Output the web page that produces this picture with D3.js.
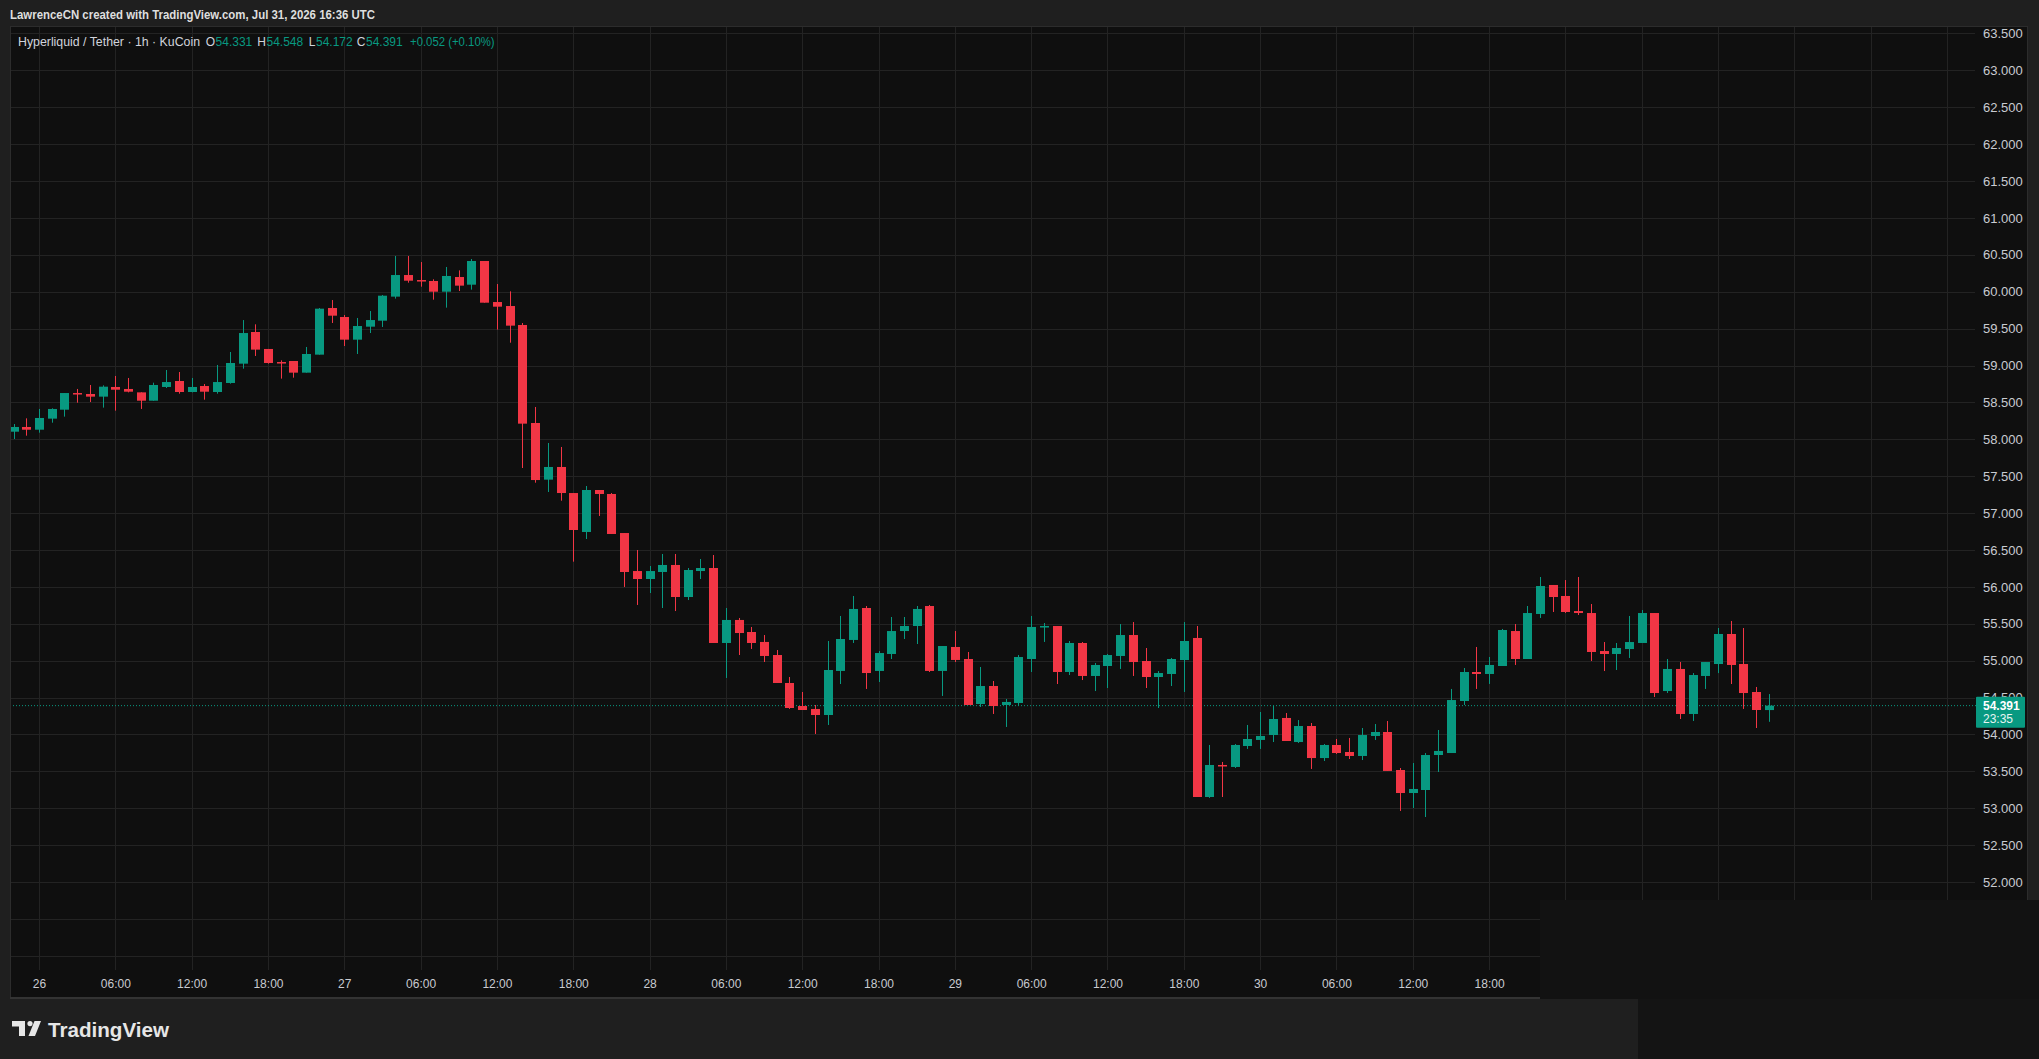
<!DOCTYPE html>
<html><head><meta charset="utf-8">
<script src="https://cdn.jsdelivr.net/npm/d3@7"></script>
<style>html,body{margin:0;padding:0;background:#1f1f1f;overflow:hidden}
text{font-family:"Liberation Sans",Arial,sans-serif}</style></head>
<body><svg id="c" width="2039" height="1059"></svg>
<script>
// ---- data (Hyperliquid / Tether, 1h, KuCoin) ----
const firstCandle = "2026-07-25T22:00:00Z";
const openV = [58.103,58.167,58.130,58.280,58.401,58.627,58.614,58.578,58.709,58.682,58.636,58.523,58.709,58.790,58.641,58.722,58.641,58.763,59.025,59.454,
59.224,59.047,59.061,58.903,59.147,59.779,59.657,59.350,59.526,59.607,59.933,60.226,60.158,60.145,60.000,60.199,60.095,60.416,59.860,59.806,
59.549,58.221,57.453,57.625,57.272,56.744,57.313,57.259,56.730,56.215,56.107,56.202,56.297,55.863,56.215,56.256,55.240,55.552,55.389,55.254,
55.077,54.698,54.386,54.346,54.264,54.861,55.281,55.714,54.861,55.091,55.402,55.470,55.741,54.861,55.186,55.023,54.413,54.657,54.400,54.427,
55.023,55.457,55.470,54.847,55.240,54.793,54.928,55.064,55.348,54.996,54.779,54.820,55.009,55.308,53.153,53.587,53.560,53.844,53.926,53.993,
54.224,53.898,54.115,53.681,53.858,53.763,53.709,53.980,54.034,53.519,53.207,53.248,53.722,53.749,54.454,54.847,54.820,54.928,55.402,55.023,
55.633,56.026,55.877,55.673,55.646,55.131,55.091,55.158,55.240,55.646,54.589,54.888,54.278,54.793,54.955,55.362,54.955,54.576,54.331];
const highV = [58.207,58.284,58.411,58.420,58.627,58.682,58.736,58.731,58.858,58.831,58.636,58.767,58.939,58.912,58.831,58.749,59.007,59.183,59.616,59.558,
59.224,59.070,59.061,59.251,59.779,59.887,59.684,59.644,59.738,59.955,60.484,60.484,60.402,60.168,60.335,60.289,60.443,60.416,60.104,60.005,
59.576,58.438,57.950,57.896,57.272,57.367,57.313,57.272,56.730,56.500,56.283,56.446,56.446,56.256,56.378,56.432,55.714,55.579,55.457,55.348,
55.145,54.779,54.576,54.400,55.267,55.606,55.877,55.741,55.131,55.592,55.592,55.741,55.755,55.199,55.402,55.118,54.915,54.725,54.481,55.077,
55.606,55.511,55.470,55.267,55.253,54.969,55.091,55.497,55.524,55.172,54.860,55.037,55.524,55.470,53.858,53.628,53.871,54.129,54.305,54.386,
54.291,54.196,54.156,53.871,53.939,53.953,54.088,54.142,54.183,53.546,53.614,53.749,54.061,54.617,54.901,55.186,55.050,55.430,55.497,55.741,
56.134,56.026,56.093,56.134,55.768,55.253,55.240,55.606,55.687,55.646,55.023,54.982,54.833,54.982,55.443,55.538,55.443,54.644,54.548];
const lowV = [58.004,58.049,58.090,58.225,58.307,58.496,58.505,58.429,58.388,58.636,58.411,58.523,58.695,58.618,58.636,58.537,58.618,58.754,58.957,59.129,
59.025,58.822,58.835,58.903,59.147,59.576,59.264,59.156,59.440,59.522,59.906,60.122,60.068,59.892,59.784,60.009,60.028,59.851,59.486,59.309,
57.611,57.412,57.286,57.168,56.342,56.649,56.961,56.717,55.999,55.755,55.917,55.714,55.673,55.822,56.107,55.240,54.766,55.077,55.159,54.982,
54.698,54.346,54.332,54.007,54.129,54.684,55.240,54.617,54.711,55.023,55.294,55.226,54.847,54.522,54.982,54.400,54.373,54.278,54.102,54.386,
54.847,55.254,54.684,54.806,54.738,54.589,54.630,54.888,54.793,54.630,54.359,54.657,54.576,53.153,53.140,53.153,53.546,53.804,53.804,53.898,
53.912,53.885,53.533,53.641,53.736,53.668,53.654,53.926,53.506,52.964,53.004,52.882,53.492,53.749,54.400,54.617,54.685,54.928,54.942,55.023,
55.579,55.660,55.646,55.619,54.996,54.860,54.874,55.037,55.240,54.508,54.562,54.210,54.183,54.617,54.832,54.684,54.346,54.088,54.172];
const closeV = [58.167,58.130,58.289,58.411,58.627,58.618,58.578,58.713,58.672,58.645,58.523,58.736,58.776,58.641,58.709,58.645,58.776,59.034,59.440,59.215,
59.034,59.038,58.903,59.156,59.770,59.675,59.350,59.535,59.616,59.946,60.226,60.149,60.149,60.000,60.213,60.082,60.416,59.851,59.797,59.540,
58.212,57.448,57.625,57.272,56.771,57.313,57.259,56.717,56.202,56.107,56.215,56.297,55.863,56.229,56.256,55.240,55.552,55.375,55.240,55.064,
54.698,54.359,54.332,54.264,54.874,55.294,55.701,54.833,55.104,55.402,55.470,55.701,54.861,55.199,55.010,54.400,54.657,54.386,54.441,55.050,
55.457,55.470,54.847,55.240,54.793,54.942,55.077,55.348,54.982,54.779,54.833,55.023,55.267,53.153,53.587,53.578,53.858,53.939,53.980,54.210,
53.912,54.115,53.681,53.858,53.749,53.709,53.993,54.034,53.506,53.207,53.262,53.722,53.777,54.467,54.847,54.820,54.942,55.416,55.023,55.646,
56.012,55.863,55.660,55.646,55.118,55.091,55.172,55.253,55.646,54.562,54.888,54.278,54.806,54.982,55.362,54.942,54.562,54.332,54.391];
const priceTicks = [52,52.5,53,53.5,54,54.5,55,55.5,56,56.5,57,57.5,58,58.5,59,59.5,60,60.5,61,61.5,62,62.5,63,63.5];
const gridPrices = [51,51.5,52,52.5,53,53.5,54,54.5,55,55.5,56,56.5,57,57.5,58,58.5,59,59.5,60,60.5,61,61.5,62,62.5,63,63.5];
const timeTicks = ["2026-07-26T00:00:00Z","2026-07-26T06:00:00Z","2026-07-26T12:00:00Z","2026-07-26T18:00:00Z",
"2026-07-27T00:00:00Z","2026-07-27T06:00:00Z","2026-07-27T12:00:00Z","2026-07-27T18:00:00Z",
"2026-07-28T00:00:00Z","2026-07-28T06:00:00Z","2026-07-28T12:00:00Z","2026-07-28T18:00:00Z",
"2026-07-29T00:00:00Z","2026-07-29T06:00:00Z","2026-07-29T12:00:00Z","2026-07-29T18:00:00Z",
"2026-07-30T00:00:00Z","2026-07-30T06:00:00Z","2026-07-30T12:00:00Z","2026-07-30T18:00:00Z"];
const extraGridTimes = ["2026-07-31T00:00:00Z","2026-07-31T06:00:00Z","2026-07-31T12:00:00Z","2026-07-31T18:00:00Z",
"2026-08-01T00:00:00Z","2026-08-01T06:00:00Z"];
const lastPrice = 54.391, countdown = "23:35";
const headerText = "LawrenceCN created with TradingView.com, Jul 31, 2026 16:36 UTC";

// ---- colors ----
const UP = "#089981", DOWN = "#f23645", GRID = "#232323", TXT = "#c9cbd1";

const svg = d3.select("#c");
const t0 = new Date(firstCandle).getTime();
const candles = openV.map((o,i)=>({t:new Date(t0+i*3600e3),o,h:highV[i],l:lowV[i],c:closeV[i]}));

const x = d3.scaleUtc().domain([new Date("2026-07-26T00:00:00Z"), new Date("2026-07-31T00:00:00Z")]).range([39, 39+120*12.72]);
const y = d3.scaleLinear().domain([52,63]).range([882.1, 70.3]);

const PL=10, PR=1975, PT=27, PB=970;

// header
svg.append("text").attr("x",10).attr("y",19).attr("font-size",12.5).attr("font-weight","bold")
  .attr("fill","#dedede").attr("textLength",365).attr("lengthAdjust","spacingAndGlyphs").text(headerText);

// pane
svg.append("rect").attr("x",10).attr("y",26).attr("width",2018).attr("height",972).attr("fill","#0f0f0f");

// grid
const g = svg.append("g");
g.selectAll("line.h").data(gridPrices).join("line").attr("x1",PL).attr("x2",PR)
  .attr("y1",d=>Math.round(y(d))+0.5).attr("y2",d=>Math.round(y(d))+0.5).attr("stroke",GRID);
g.selectAll("line.v").data(timeTicks.concat(extraGridTimes).map(s=>new Date(s))).join("line")
  .attr("x1",d=>Math.round(x(d))+0.5).attr("x2",d=>Math.round(x(d))+0.5).attr("y1",PT).attr("y2",PB).attr("stroke",GRID);

// price line
svg.append("line").attr("x1",PL).attr("x2",1976).attr("y1",y(lastPrice)).attr("y2",y(lastPrice))
  .attr("stroke",UP).attr("stroke-dasharray","1 2").attr("stroke-width",1);

// candles
const bw = 9;
const cg = svg.append("g");
const cs = cg.selectAll("g").data(candles).join("g");
cs.append("line").attr("x1",d=>Math.round(x(d.t))+0.5).attr("x2",d=>Math.round(x(d.t))+0.5)
  .attr("y1",d=>y(d.h)).attr("y2",d=>y(d.l)).attr("stroke",d=>d.c>=d.o?UP:DOWN).attr("stroke-width",1);
cs.append("rect").attr("x",d=>Math.round(x(d.t))-4).attr("width",bw)
  .attr("y",d=>y(Math.max(d.o,d.c))).attr("height",d=>Math.max(1.5,Math.abs(y(d.o)-y(d.c))))
  .attr("fill",d=>d.c>=d.o?UP:DOWN);

// price axis
const ya = svg.append("g").attr("transform","translate(1983,0)")
  .call(d3.axisRight(y).tickValues(priceTicks).tickFormat(d3.format(".3f")).tickSize(0).tickPadding(0));
ya.select(".domain").remove();
ya.selectAll("text").attr("fill",TXT).attr("font-size",13).attr("font-family","Liberation Sans, Arial, sans-serif");

// time axis
const fmt = d => d.getUTCHours()===0 ? String(d.getUTCDate()) : d3.utcFormat("%H:%M")(d);
const xa = svg.append("g").attr("transform","translate(0,979.5)")
  .call(d3.axisBottom(x).tickValues(timeTicks.map(s=>new Date(s))).tickFormat(fmt).tickSize(0).tickPadding(0));
xa.select(".domain").remove();
xa.selectAll("text").attr("fill",TXT).attr("font-size",12).attr("font-family","Liberation Sans, Arial, sans-serif");

// last price box
svg.append("rect").attr("x",1976).attr("y",y(lastPrice)-9).attr("width",49).attr("height",31).attr("fill",UP).attr("rx",1);
svg.append("text").attr("x",1983).attr("y",y(lastPrice)+4.5).attr("font-size",12).attr("font-weight","bold").attr("fill","#ffffff").text(d3.format(".3f")(lastPrice));
svg.append("text").attr("x",1983).attr("y",y(lastPrice)+17.5).attr("font-size",12).attr("fill","#e6f4f1").text(countdown);

// pane border
svg.append("rect").attr("x",10.5).attr("y",26.5).attr("width",2017).attr("height",971).attr("fill","none").attr("stroke","#2c2c2c");
svg.append("line").attr("x1",10).attr("x2",2028).attr("y1",998).attr("y2",998).attr("stroke","#333").attr("stroke-width",2);

// lower-right overlay
svg.append("rect").attr("x",1540).attr("y",900).attr("width",499).attr("height",99).attr("fill","#121212");
svg.append("rect").attr("x",1638).attr("y",999).attr("width",401).attr("height",60).attr("fill","#141414");

// legend
const lg = svg.append("g").attr("font-size",12);
const legendParts = [
  {x:18, t:"Hyperliquid / Tether · 1h · KuCoin", c:"#d1d4dc", w:182},
  {x:215, t:"O", c:"#d1d4dc", a:"end"}, {x:215.6, t:d3.format(".3f")(openV[openV.length-1]), c:UP},
  {x:266, t:"H", c:"#d1d4dc", a:"end"}, {x:266.5, t:d3.format(".3f")(highV[highV.length-1]), c:UP},
  {x:315.5, t:"L", c:"#d1d4dc", a:"end"}, {x:316, t:d3.format(".3f")(lowV[lowV.length-1]), c:UP},
  {x:365.5, t:"C", c:"#d1d4dc", a:"end"}, {x:366, t:d3.format(".3f")(closeV[closeV.length-1]), c:UP},
  {x:410, t:"+0.052 (+0.10%)", c:UP, w:84.6}
];
legendParts.forEach(p=>{
  const tt = lg.append("text").attr("x",p.x).attr("y",46).attr("fill",p.c).attr("text-anchor",p.a||"start").text(p.t);
  if(p.w) tt.attr("textLength",p.w).attr("lengthAdjust","spacingAndGlyphs");
});

// TradingView logo
const logo = svg.append("g").attr("fill","#e6e6e6");
logo.append("path").attr("d","M12 1021 H25 V1036 H19 V1026.5 H12 Z");
logo.append("circle").attr("cx",30).attr("cy",1023.6).attr("r",2.6);
logo.append("path").attr("d","M34.5 1021 H41 L35 1036 H28.5 Z");
logo.append("text").attr("x",48).attr("y",1036.5).attr("font-size",21).attr("font-weight","bold")
  .attr("font-family","Lato, Inter, sans-serif").attr("textLength",121).attr("lengthAdjust","spacingAndGlyphs").text("TradingView");
</script></body></html>
